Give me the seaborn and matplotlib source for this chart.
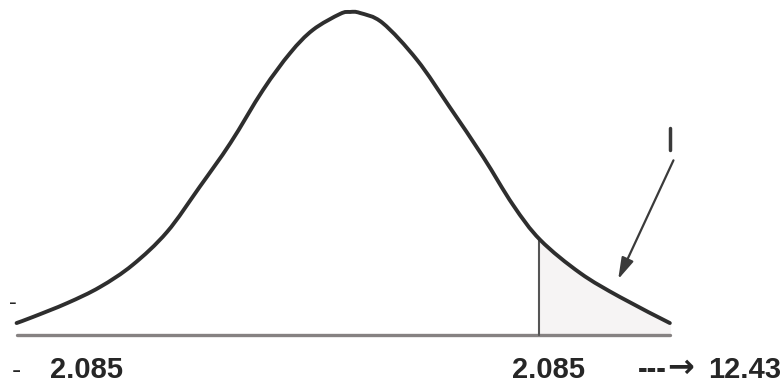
import numpy as np
import pandas as pd
import matplotlib.pyplot as plt
import seaborn as sns
from matplotlib.path import Path
from matplotlib.patches import PathPatch

# t values and density heights
t_vals = [-3.68, -3.50, -3.12, -2.76, -2.40, -2.02, -1.66, -1.32, -0.96, -0.66,
          -0.41, -0.11, 0.00, 0.11, 0.36, 0.74, 1.10, 1.47, 1.80, 2.10,
          2.54, 2.98, 3.53]
density = [0.0146, 0.0220, 0.0390, 0.0585, 0.0854, 0.1256, 0.1805, 0.2341, 0.2988, 0.3439,
           0.3720, 0.3915, 0.3939, 0.3927, 0.3805, 0.3354, 0.2780, 0.2171, 0.1585, 0.1159,
           0.0756, 0.0463, 0.0146]
t_crit = 2.085
t_crit_height = 0.118
arrow_start = (3.57, 0.213)
arrow_end = (2.96, 0.068)
mark_top = (3.53, 0.252, 0.225)   # fragment of the cut-off label at the top right

curve = pd.DataFrame({'t': t_vals, 'density': density})


def smooth_path(x, y):
    # Catmull-Rom through the read points, drawn as bezier segments
    pts = np.column_stack([x, y])
    verts = [pts[0]]
    codes = [Path.MOVETO]
    n = len(pts)
    for i in range(n - 1):
        p0 = pts[max(i - 1, 0)]
        p1 = pts[i]
        p2 = pts[i + 1]
        p3 = pts[min(i + 2, n - 1)]
        verts += [p1 + (p2 - p0) / 6, p2 - (p3 - p1) / 6, p2]
        codes += [Path.CURVE4] * 3
    return Path(verts, codes)


sns.set_style('white')
plt.rcParams['font.family'] = ['Liberation Sans', 'DejaVu Sans']

fig = plt.figure(figsize=(7.82, 3.83), dpi=100)
ax = fig.add_axes([0, 0, 1, 1])

# faint shading of the right tail
tail = curve[curve['t'] >= t_crit - 0.02]
xs = np.concatenate([[t_crit], tail['t'].values])
ys = np.concatenate([[t_crit_height], tail['density'].values])
ax.fill_between(xs, 0, ys, color='#f6f4f4', zorder=1)

# baseline
sns.lineplot(x=[t_vals[0], t_vals[-1]], y=[0, 0], ax=ax, color='#868282', lw=2.4, zorder=2)

# the curve
ax.add_patch(PathPatch(smooth_path(curve['t'], curve['density']), fill=False,
                       edgecolor='#2e2e2e', lw=2.8, zorder=3, capstyle='round'))

# critical value line
ax.plot([t_crit, t_crit], [0, t_crit_height], color='#555555', lw=1.5, zorder=2)

# arrow pointing into the tail
ax.annotate('', xy=arrow_end, xytext=arrow_start,
            arrowprops=dict(arrowstyle='-|>,head_length=1.3,head_width=0.38',
                            color='#3a3a3a', lw=1.6, shrinkA=0, shrinkB=0))
ax.plot([mark_top[0], mark_top[0]], [mark_top[1], mark_top[2]], color='#3a3a3a', lw=2.5)

# labels under the curve
ax.text(-3.73, -0.0524, '-', fontsize=20, ha='left', va='baseline')
ax.text(-3.76, 0.0385, '-', fontsize=17, ha='left', va='center')
ax.text(-3.311, -0.0524, '2.085', fontsize=21, fontweight='bold', ha='left', va='baseline')
ax.text(1.788, -0.0524, '2.085', fontsize=21, fontweight='bold', ha='left', va='baseline')
ax.text(3.179, -0.0524, '---', fontsize=21, fontweight='bold', ha='left', va='baseline')
ax.text(3.50, -0.0405, '\u2192', fontsize=23, fontweight='bold', ha='left', va='center',
        family='DejaVu Sans')
ax.text(3.955, -0.0524, '12.43', fontsize=21, fontweight='bold', ha='left', va='baseline')

ax.set_xlim(-3.863, 4.768)
ax.set_ylim(-0.0585, 0.4085)
ax.axis('off')

plt.savefig('out.png', dpi=100)
